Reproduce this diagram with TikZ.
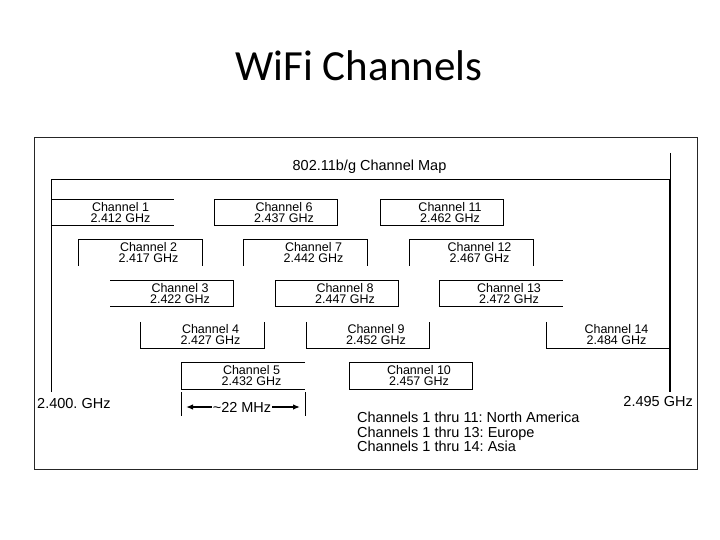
\documentclass[tikz,border=0pt]{standalone}
\usepackage{fontspec}
\setmainfont{Liberation Sans}
\newfontfamily\titlefont{Carlito}
\usetikzlibrary{arrows.meta}
\frenchspacing
\begin{document}
\begin{tikzpicture}[x=1pt,y=-1pt,
  chan/.style={rectangle, minimum width=123pt, minimum height=26pt, inner sep=0pt},
  ctext/.style={align=center, inner sep=0pt, font=\fontsize{12.5}{11}\selectfont},
  edge/.style={line width=0.9pt, black},
  lbl/.style={inner sep=0pt, font=\fontsize{14.5}{14.5}\selectfont},
  arr/.style={line width=1.3pt, -{Latex[length=7pt,width=5.5pt]}}]
\useasboundingbox[fill=white] (0,0) rectangle (720,540);
% slide title
\node[font=\titlefont\fontsize{43}{43}\selectfont, inner sep=0pt, anchor=base] (title) at (359,81) {WiFi Channels};
% outer frame
\node[draw=black!85, line width=0.8pt, minimum width=663pt, minimum height=332pt, inner sep=0pt] (frame) at (365.5,303) {};
% inner frame
\coordinate (tl) at (51,179);
\coordinate (tr) at (670,179);
\coordinate (bl) at (51,392);
\coordinate (br) at (670,392);
\coordinate (rtop) at (670,153);
\draw[edge] (bl) -- (tl) -- (tr);
\draw[line width=1pt] (rtop) -- (tr);
\draw[line width=2.2pt] (tr) -- (br);
\node[lbl] (maptitle) at (369.5,167) {802.11b/g Channel Map};
% channel boxes
\node[chan] (c1) at (112.5,212.5) {};
\node[chan] (c6) at (276,212.5) {};
\node[chan] (c11) at (442,212.5) {};
\node[chan] (c2) at (140.5,252.5) {};
\node[chan] (c7) at (305.5,252.5) {};
\node[chan] (c12) at (471.5,252.5) {};
\node[chan] (c3) at (172,293.5) {};
\node[chan] (c8) at (337,293.5) {};
\node[chan] (c13) at (501,293.5) {};
\node[chan] (c4) at (202.5,335) {};
\node[chan] (c9) at (368,335) {};
\node[chan] (c14) at (608.5,335) {};
\node[chan] (c5) at (243.5,376) {};
\node[chan] (c10) at (411,376) {};
% box outlines
\draw[edge] (c1.north west) -- (c1.north east);
\draw[edge] (c1.south west) -- (c1.south east);
\draw[edge] (c6.north west) rectangle (c6.south east);
\draw[edge] (c11.north west) rectangle (c11.south east);
\draw[edge] (c2.south west) -- (c2.north west) -- (c2.north east) -- (c2.south east);
\draw[edge] (c7.south west) -- (c7.north west) -- (c7.north east) -- (c7.south east);
\draw[edge] (c12.south west) -- (c12.north west) -- (c12.north east) -- (c12.south east);
\draw[edge] (c3.north west) -- (c3.north east) -- (c3.south east) -- (c3.south west);
\draw[edge] (c8.north west) rectangle (c8.south east);
\draw[edge] (c13.north east) -- (c13.north west) -- (c13.south west) -- (c13.south east);
\draw[edge] (c4.north west) -- (c4.south west) -- (c4.south east) -- (c4.north east);
\draw[edge] (c9.north west) -- (c9.south west) -- (c9.south east) -- (c9.north east);
\draw[edge] (c14.north west) -- (c14.south west) -- (c14.south east);
\draw[edge] (c5.north east) -- (c5.north west) -- (c5.south west) -- (c5.south east);
\draw[edge] (c10.north west) rectangle (c10.south east);
% channel texts
\node[ctext] (t1) at ([xshift=8pt]c1.center) {Channel 1\\2.412 GHz};
\node[ctext] (t6) at ([xshift=8pt]c6.center) {Channel 6\\2.437 GHz};
\node[ctext] (t11) at ([xshift=8pt]c11.center) {Channel 11\\2.462 GHz};
\begin{scope}
\clip (0,0) rectangle (720,265.5);
\node[ctext] (t2) at ([xshift=8pt]c2.center) {Channel 2\\2.417 GHz};
\node[ctext] (t7) at ([xshift=8pt]c7.center) {Channel 7\\2.442 GHz};
\node[ctext] (t12) at ([xshift=8pt]c12.center) {Channel 12\\2.467 GHz};
\end{scope}
\node[ctext] (t3) at ([xshift=8pt]c3.center) {Channel 3\\2.422 GHz};
\node[ctext] (t8) at ([xshift=8pt]c8.center) {Channel 8\\2.447 GHz};
\node[ctext] (t13) at ([xshift=8pt]c13.center) {Channel 13\\2.472 GHz};
\node[ctext] (t4) at ([xshift=8pt]c4.center) {Channel 4\\2.427 GHz};
\node[ctext] (t9) at ([xshift=8pt]c9.center) {Channel 9\\2.452 GHz};
\node[ctext] (t14) at ([xshift=8pt]c14.center) {Channel 14\\2.484 GHz};
\node[ctext] (t5) at ([xshift=8pt]c5.center) {Channel 5\\2.432 GHz};
\node[ctext] (t10) at ([xshift=8pt]c10.center) {Channel 10\\2.457 GHz};
% end frequencies
\node[lbl, anchor=west] (f0) at (37,404) {2.400. GHz};
\node[lbl, anchor=east] (f1) at (693,402) {2.495 GHz};
% 22 MHz width marker
\coordinate (m1t) at (181,392);
\coordinate (m1b) at (181,416);
\coordinate (m2t) at (305,392);
\coordinate (m2b) at (305,416);
\draw[edge] (m1t) -- (m1b);
\draw[edge] (m2t) -- (m2b);
\node[inner sep=0pt, font=\fontsize{14.5}{14.5}\selectfont] (mhz) at (242,407) {\textasciitilde22 MHz};
\coordinate (a1) at (186,407);
\coordinate (a2) at (300,407);
\draw[arr] ([xshift=-1pt]mhz.west) -- (a1);
\draw[arr] ([xshift=1pt]mhz.east) -- (a2);
% legend
\node[lbl, anchor=west, align=left] (legend) at (357,432) {Channels 1 thru 11: North America\\Channels 1 thru 13: Europe\\Channels 1 thru 14: Asia};
\end{tikzpicture}
\end{document}
